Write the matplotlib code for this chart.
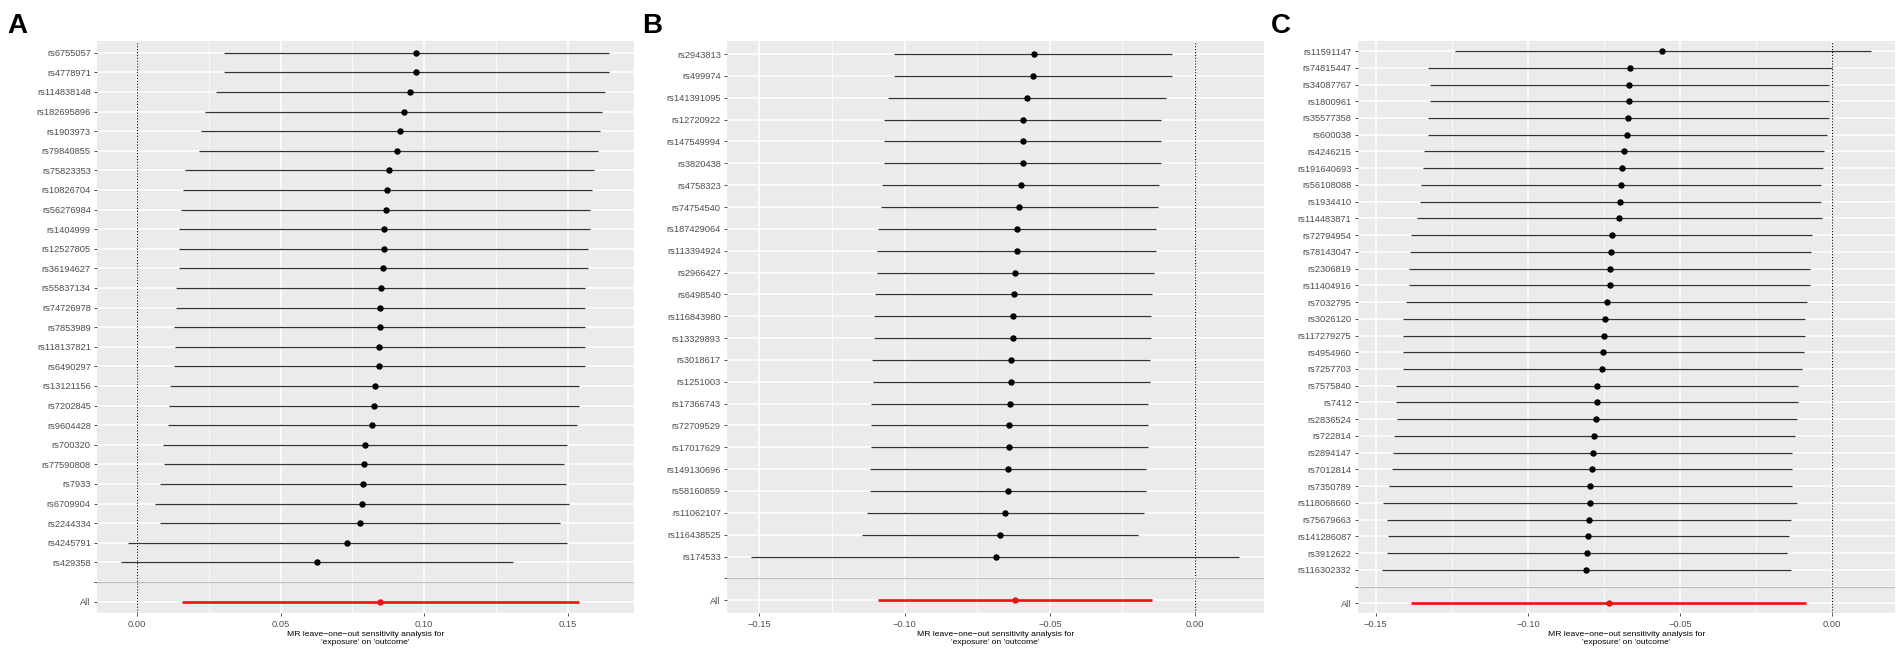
import matplotlib
matplotlib.use("Agg")
import matplotlib.pyplot as plt
from matplotlib.ticker import MultipleLocator, FixedLocator
import numpy as np

plt.rcParams['font.family'] = ['Liberation Sans', 'DejaVu Sans']

# ---------------- Panel A ----------------
snps_a = ["rs6755057", "rs4778971", "rs114838148", "rs182695896", "rs1903973",
          "rs79840855", "rs75823353", "rs10826704", "rs56276984", "rs1404999",
          "rs12527805", "rs36194627", "rs55837134", "rs74726978", "rs7853989",
          "rs118137821", "rs6490297", "rs13121156", "rs7202845", "rs9604428",
          "rs700320", "rs77590808", "rs7933", "rs6709904", "rs2244334",
          "rs4245791", "rs429358"]
b_a = [0.0972, 0.0972, 0.0952, 0.0929, 0.0914, 0.0907, 0.0877, 0.0871, 0.0866,
       0.0861, 0.0860, 0.0857, 0.0848, 0.0847, 0.0846, 0.0844, 0.0843, 0.0828,
       0.0826, 0.0819, 0.0793, 0.0791, 0.0786, 0.0782, 0.0777, 0.0732, 0.0626]
lo_a = [0.0302, 0.0302, 0.0276, 0.0238, 0.0221, 0.0214, 0.0166, 0.0159, 0.0154,
        0.0146, 0.0146, 0.0146, 0.0136, 0.0135, 0.0128, 0.0131, 0.0129, 0.0116,
        0.0111, 0.0108, 0.0091, 0.0093, 0.0081, 0.0063, 0.0081, -0.0031, -0.0055]
hi_a = [0.1645, 0.1643, 0.1629, 0.1621, 0.1612, 0.1605, 0.1590, 0.1584, 0.1577,
        0.1576, 0.1571, 0.1571, 0.1562, 0.1561, 0.1562, 0.1559, 0.1559, 0.1539,
        0.1541, 0.1532, 0.1497, 0.1487, 0.1494, 0.1504, 0.1473, 0.1497, 0.1309]
all_a = [0.0847, 0.0157, 0.1538]   # estimate, lower, upper
ticks_a = [0.00, 0.05, 0.10, 0.15]

# ---------------- Panel B ----------------
snps_b = ["rs2943813", "rs499974", "rs141391095", "rs12720922", "rs147549994",
          "rs3820438", "rs4758323", "rs74754540", "rs187429064", "rs113394924",
          "rs2966427", "rs6498540", "rs116843980", "rs13329893", "rs3018617",
          "rs1251003", "rs17366743", "rs72709529", "rs17017629", "rs149130696",
          "rs58160859", "rs11062107", "rs116438525", "rs174533"]
b_b = [-0.0556, -0.0559, -0.0579, -0.0593, -0.0593, -0.0594, -0.0600, -0.0606,
       -0.0612, -0.0613, -0.0619, -0.0625, -0.0628, -0.0627, -0.0632, -0.0633,
       -0.0638, -0.0640, -0.0640, -0.0644, -0.0644, -0.0653, -0.0672, -0.0685]
lo_b = [-0.1036, -0.1036, -0.1056, -0.1069, -0.1069, -0.1071, -0.1076, -0.1080,
        -0.1090, -0.1094, -0.1094, -0.1100, -0.1104, -0.1104, -0.1111, -0.1108,
        -0.1114, -0.1114, -0.1115, -0.1120, -0.1120, -0.1129, -0.1147, -0.1527]
hi_b = [-0.0078, -0.0081, -0.0101, -0.0117, -0.0116, -0.0118, -0.0123, -0.0128,
        -0.0133, -0.0134, -0.0142, -0.0149, -0.0152, -0.0152, -0.0154, -0.0156,
        -0.0162, -0.0163, -0.0162, -0.0168, -0.0170, -0.0176, -0.0196, 0.0152]
all_b = [-0.0619, -0.1090, -0.0147]
ticks_b = [-0.15, -0.10, -0.05, 0.00]

# ---------------- Panel C ----------------
snps_c = ["rs11591147", "rs74815447", "rs34087767", "rs1800961", "rs35577358",
          "rs600038", "rs4246215", "rs191640693", "rs56108088", "rs1934410",
          "rs114483871", "rs72794954", "rs78143047", "rs2306819", "rs11404916",
          "rs7032795", "rs3026120", "rs117279275", "rs4954960", "rs7257703",
          "rs7575840", "rs7412", "rs2836524", "rs722814", "rs2894147",
          "rs7012814", "rs7350789", "rs118068660", "rs75679663", "rs141286087",
          "rs3912622", "rs116302332"]
b_c = [-0.0558, -0.0663, -0.0667, -0.0667, -0.0671, -0.0674, -0.0685, -0.0690,
       -0.0694, -0.0696, -0.0700, -0.0725, -0.0728, -0.0731, -0.0731, -0.0741,
       -0.0748, -0.0751, -0.0753, -0.0758, -0.0774, -0.0774, -0.0775, -0.0782,
       -0.0787, -0.0790, -0.0796, -0.0797, -0.0800, -0.0802, -0.0807, -0.0808]
lo_c = [-0.1239, -0.1327, -0.1323, -0.1323, -0.1329, -0.1329, -0.1341, -0.1344,
        -0.1351, -0.1355, -0.1363, -0.1383, -0.1386, -0.1390, -0.1390, -0.1399,
        -0.1409, -0.1410, -0.1410, -0.1412, -0.1434, -0.1434, -0.1431, -0.1439,
        -0.1444, -0.1447, -0.1458, -0.1476, -0.1463, -0.1459, -0.1463, -0.1479]
hi_c = [0.0126, 0.0000, -0.0009, -0.0009, -0.0012, -0.0016, -0.0027, -0.0031,
        -0.0036, -0.0037, -0.0033, -0.0066, -0.0069, -0.0073, -0.0073, -0.0082,
        -0.0088, -0.0091, -0.0094, -0.0099, -0.0114, -0.0114, -0.0117, -0.0123,
        -0.0131, -0.0133, -0.0131, -0.0117, -0.0137, -0.0142, -0.0149, -0.0134]
all_c = [-0.0735, -0.1385, -0.0086]
ticks_c = [-0.15, -0.10, -0.05, 0.00]

panel_letters = ["A", "B", "C"]
xlabel = "MR leave\u2212one\u2212out sensitivity analysis for\n'exposure' on 'outcome'"

W, H = 1901, 655
fig = plt.figure(figsize=(W / 100, H / 100), dpi=100)

# axes boxes in pixels: left, right, top, bottom
boxes = [(97, 633.7, 41, 613.3), (727, 1263.7, 41, 613.3), (1357.7, 1895, 41, 613.3)]
letter_x = [7, 642, 1271]

panels = [(snps_a, b_a, lo_a, hi_a, all_a, ticks_a),
          (snps_b, b_b, lo_b, hi_b, all_b, ticks_b),
          (snps_c, b_c, lo_c, hi_c, all_c, ticks_c)]

for i, (snps, b, lo, hi, allv, ticks) in enumerate(panels):
    l, r, t, bt = boxes[i]
    ax = fig.add_axes([l / W, (H - bt) / H, (r - l) / W, (bt - t) / H])
    n = len(snps)
    y = np.arange(n + 2, 2, -1)  # top SNP highest
    ax.set_facecolor('#EBEBEB')
    for s in ax.spines.values():
        s.set_visible(False)

    ax.hlines(y, lo, hi, color='#333333', lw=0.9, zorder=3)
    ax.plot(b, y, 'o', color='black', ms=3.6, zorder=4)
    ax.hlines(1, allv[1], allv[2], color='#EE1111', lw=1.9, zorder=3)
    ax.plot([allv[0]], [1], 'o', color='#EE1111', ms=3.6, zorder=4)
    ax.axvline(0, color='black', ls=(0, (1, 1.6)), lw=0.8, zorder=2)
    ax.axhline(2, color='#BEBEBE', lw=0.9, zorder=2)

    xmin = min(min(lo), allv[1], 0)
    xmax = max(max(hi), allv[2], 0)
    pad = 0.05 * (xmax - xmin)
    ax.set_xlim(xmin - pad, xmax + pad)
    ax.set_ylim(0.4, n + 2.6)

    ax.xaxis.set_major_locator(FixedLocator(ticks))
    ax.xaxis.set_minor_locator(MultipleLocator(0.025))
    ax.set_xticklabels([f"{v:.2f}".replace("-", "\u2212") for v in ticks])
    ax.set_yticks(list(y) + [2, 1])
    ax.set_yticklabels(snps + ["", "All"])

    ax.set_axisbelow(True)
    ax.grid(which='major', axis='both', color='white', lw=1.1)
    ax.grid(which='minor', axis='x', color='white', lw=0.55)
    ax.tick_params(which='major', length=2.5, width=0.6, color='#333333',
                   labelsize=6.7, labelcolor='#4D4D4D', pad=2)
    ax.tick_params(which='minor', length=0)

    cx = (l + r) / 2
    fig.text(cx / W, (H - 630.5) / H, xlabel, ha='center', va='top',
             fontsize=6.1, color='black', linespacing=1.2, multialignment='center')
    fig.text(letter_x[i] / W, (H - 33) / H, panel_letters[i], fontsize=20,
             fontweight='bold', ha='left', va='baseline')

fig.savefig("out.png", dpi=100)
